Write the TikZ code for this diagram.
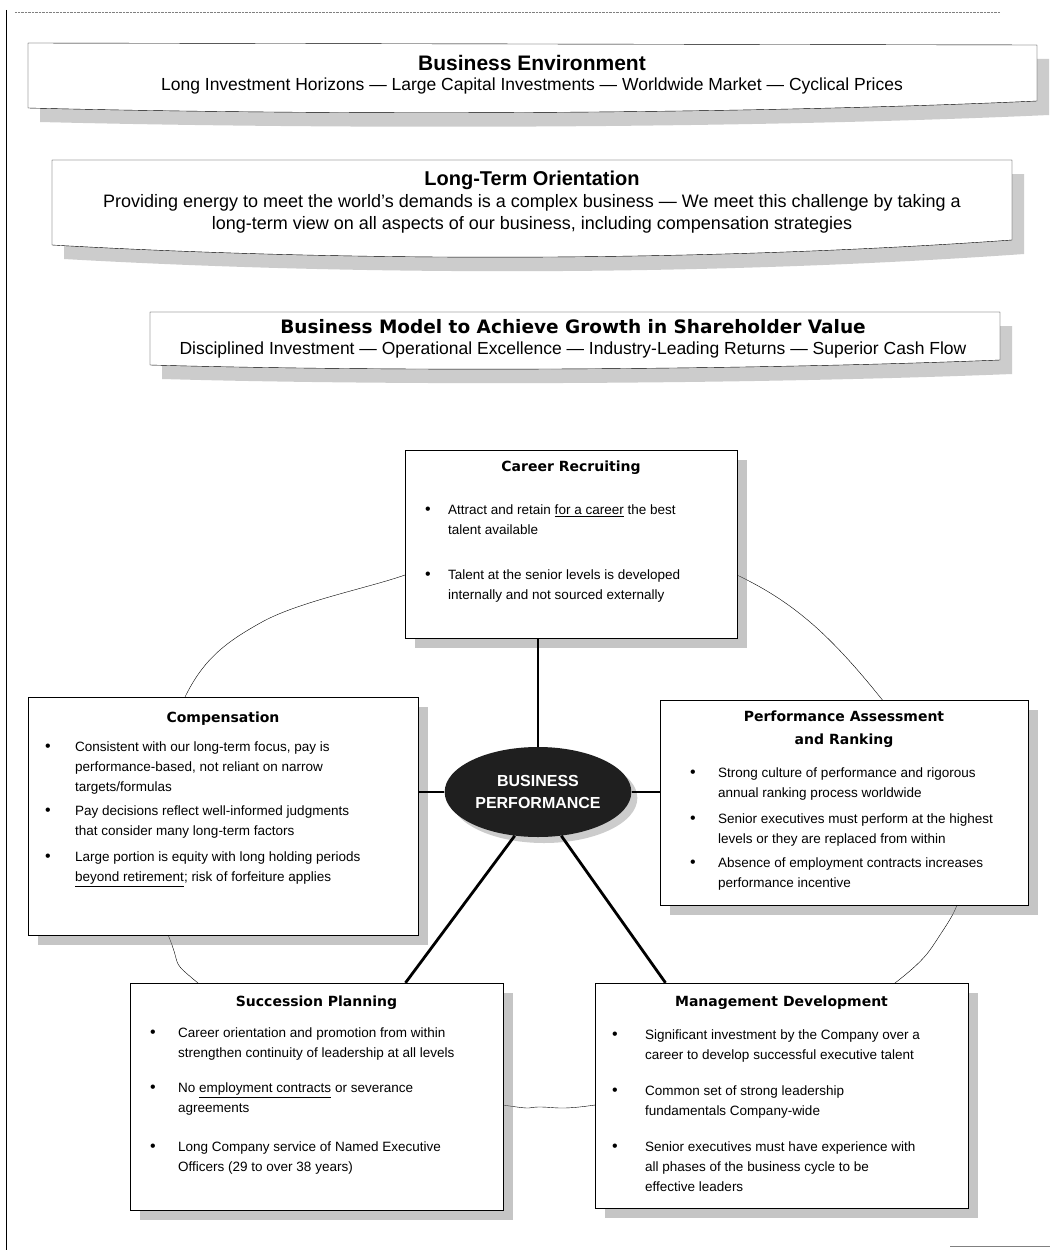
\documentclass[tikz,border=0pt]{standalone}
\usepackage{fontspec}
\setmainfont{Liberation Sans}
\newfontfamily\heavyfont{DejaVu Sans}
\usetikzlibrary{shadows,shapes.geometric}

\newcommand{\bl}[2][28pt]{\makebox[#1][l]{\fontsize{16}{20}\selectfont\textbullet}\begin{tabular}[t]{@{}l@{}}#2\end{tabular}}

\begin{document}
\begin{tikzpicture}[x=1pt,y=1pt,
  box/.style={draw, thin, fill=white, drop shadow={shadow xshift=10pt,shadow yshift=-10pt,opacity=.45}},
  banner/.style={draw, thin, fill=white, drop shadow={shadow xshift=12pt,shadow yshift=-14pt,opacity=.4}},
  ttl/.style={anchor=north, align=center, font=\heavyfont\bfseries\fontsize{14}{23}\selectfont},
  item/.style={anchor=north west, inner sep=0pt, font=\fontsize{13.5}{20}\selectfont},
  spoke/.style={line width=2.8pt},
  ]

\fill[white] (0,0) rectangle (1056,-1255);
\useasboundingbox (0,0) rectangle (1056,-1255);

% page edges
\draw[thin] (6,-10) -- (6,-1250);
\draw[gray, densely dotted] (15,-12) -- (1000,-12);
\draw[gray] (950,-1246) -- (1050,-1246);

% the three banners
\draw[banner] (28,-43) -- (1037,-45) -- (1037,-101) .. controls (750,-114) and (350,-116) .. (28,-108) -- cycle;
\node[font=\bfseries\fontsize{21}{24}\selectfont] (envT) at (532,-63) {Business Environment};
\node[font=\fontsize{17.5}{20}\selectfont] (envS) at (532,-86) {Long Investment Horizons --- Large Capital Investments --- Worldwide Market --- Cyclical Prices};

\draw[banner] (52,-160) -- (1012,-160) -- (1012,-240) .. controls (700,-262) and (350,-262) .. (52,-245) -- cycle;
\node[font=\bfseries\fontsize{20}{24}\selectfont] (ltoT) at (532,-180) {Long-Term Orientation};
\node[align=center, font=\fontsize{18}{22}\selectfont] (ltoS) at (532,-214) {Providing energy to meet the world’s demands is a complex business --- We meet this challenge by taking a\\long-term view on all aspects of our business, including compensation strategies};

\draw[banner] (150,-312) -- (1000,-312) -- (1000,-360) .. controls (750,-370) and (400,-372) .. (150,-365) -- cycle;
\node[font=\heavyfont\bfseries\fontsize{18.5}{22}\selectfont] (bmT) at (573,-327) {Business Model to Achieve Growth in Shareholder Value};
\node[font=\fontsize{17.5}{20}\selectfont] (bmS) at (573,-350) {Disciplined Investment --- Operational Excellence --- Industry-Leading Returns --- Superior Cash Flow};

% ring behind the boxes
\draw[thin] plot[smooth cycle, tension=.6] coordinates {(560,-530) (650,-545) (737,-575) (810,-622) (880,-697) (945,-790) (962,-880) (940,-935) (895,-983) (760,-1075) (595,-1105) (540,-1107) (503,-1105) (330,-1075) (198,-983) (172,-945) (150,-850) (185,-697) (262,-622) (405,-575) (480,-545)};

% boxes
\node[box, minimum width=332, minimum height=188] (career) at (571,-544) {};
\node[box, minimum width=390, minimum height=238] (comp) at (223,-816) {};
\node[box, minimum width=368, minimum height=205] (perf) at (844,-802.5) {};
\node[box, minimum width=373, minimum height=227] (succ) at (316.5,-1096.5) {};
\node[box, minimum width=373, minimum height=225] (mgmt) at (781.5,-1095.5) {};

\node[ellipse, fill=black!88, text=white, minimum width=160, minimum height=90, align=center,
  font=\bfseries\fontsize{16}{22}\selectfont,
  drop shadow={shadow xshift=6pt,shadow yshift=-6pt,opacity=.4}] (hub) at (538,-792) {BUSINESS\\PERFORMANCE};

% spokes
\draw[spoke] (hub.north) -- (hub.north |- career.south);
\draw[spoke] (hub.west) -- (hub.west -| comp.east);
\draw[spoke] (hub.east) -- (hub.east -| perf.west);
\draw[spoke] (hub.-118) -- ([xshift=89pt]succ.north);
\draw[spoke] (hub.-62) -- ([xshift=-116pt]mgmt.north);

% titles
\node[ttl] (careerT) at ([yshift=-8pt]career.north) {Career Recruiting};
\node[ttl] (compT) at ([yshift=-12pt]comp.north) {Compensation};
\node[ttl] (perfT) at ([yshift=-8pt]perf.north) {Performance Assessment\\and Ranking};
\node[ttl] (succT) at ([yshift=-10pt]succ.north) {Succession Planning};
\node[ttl] (mgmtT) at ([yshift=-10pt]mgmt.north) {Management Development};

% bullets
\node[item] (career1) at (425,-500.5) {\bl[23pt]{Attract and retain \underline{for a career} the best\\talent available}};
\node[item] (career2) at (425,-565.5) {\bl[23pt]{Talent at the senior levels is developed\\internally and not sourced externally}};

\node[item] (comp1) at (45,-737.5) {\bl[30pt]{Consistent with our long-term focus, pay is\\performance-based, not reliant on narrow\\targets/formulas}};
\node[item] (comp2) at (45,-801.5) {\bl[30pt]{Pay decisions reflect well-informed judgments\\that consider many long-term factors}};
\node[item] (comp3) at (45,-847.5) {\bl[30pt]{Large portion is equity with long holding periods\\\underline{beyond retirement}; risk of forfeiture applies}};

\node[item] (perf1) at (690,-763.5) {\bl{Strong culture of performance and rigorous\\annual ranking process worldwide}};
\node[item] (perf2) at (690,-809.5) {\bl{Senior executives must perform at the highest\\levels or they are replaced from within}};
\node[item] (perf3) at (690,-853.5) {\bl{Absence of employment contracts increases\\performance incentive}};

\node[item] (succ1) at (150,-1023.5) {\bl{Career orientation and promotion from within\\strengthen continuity of leadership at all levels}};
\node[item] (succ2) at (150,-1078.5) {\bl{No \underline{employment contracts} or severance\\agreements}};
\node[item] (succ3) at (150,-1137.5) {\bl{Long Company service of Named Executive\\Officers (29 to over 38 years)}};

\node[item] (mgmt1) at (612,-1025.5) {\bl[33pt]{Significant investment by the Company over a\\career to develop successful executive talent}};
\node[item] (mgmt2) at (612,-1081.5) {\bl[33pt]{Common set of strong leadership\\fundamentals Company-wide}};
\node[item] (mgmt3) at (612,-1137.5) {\bl[33pt]{Senior executives must have experience with\\all phases of the business cycle to be\\effective leaders}};

\end{tikzpicture}
\end{document}
